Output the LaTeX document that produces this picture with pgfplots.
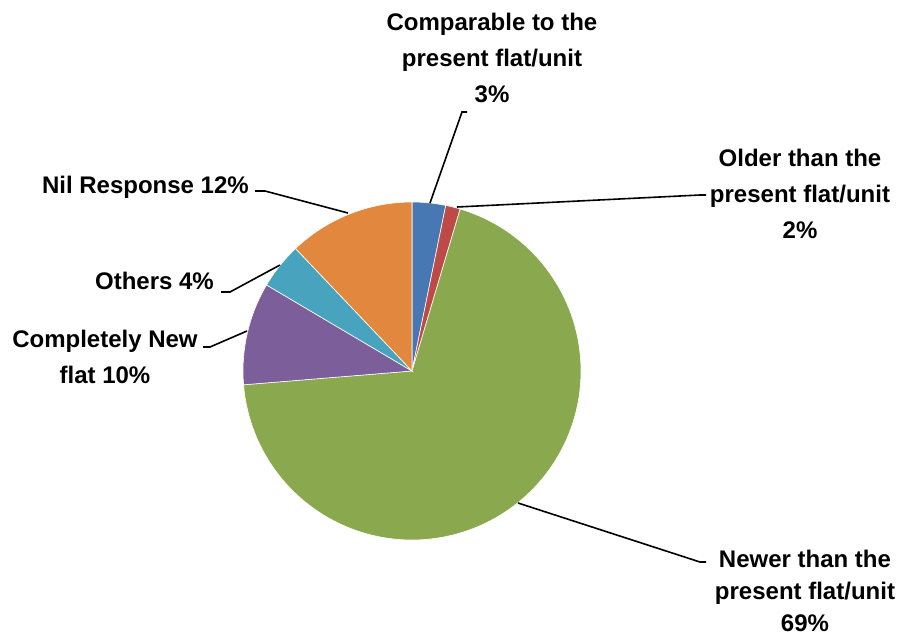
\documentclass[border=0pt]{standalone}
\usepackage{pgfplots}
\pgfplotsset{compat=1.18}
\usepackage{fontspec}
\setmainfont{Liberation Sans}
\definecolor{cBlue}{RGB}{72,120,180}
\definecolor{cRed}{RGB}{190,74,72}
\definecolor{cGreen}{RGB}{138,168,78}
\definecolor{cPurple}{RGB}{124,94,154}
\definecolor{cTeal}{RGB}{72,164,190}
\definecolor{cOrange}{RGB}{226,136,62}
\tikzset{lbl/.style={align=center, font=\fontsize{24}{36}\selectfont\bfseries, inner sep=0pt}}
\begin{document}
\begin{tikzpicture}
\useasboundingbox (0,0) rectangle (898pt,638pt);
\clip (0,0) rectangle (898pt,638pt);
\begin{axis}[at={(0pt,0pt)}, anchor=south west, scale only axis,
  width=898pt, height=638pt, xmin=0, xmax=898, ymin=0, ymax=638,
  y dir=reverse, hide axis, clip=false]
% slices: percentages (cumulative boundaries), clockwise from 12 o'clock
% Comparable 3.2, Older 1.4, Newer 69.1, Completely new 9.8, Others 4.4, Nil 12.1
\addplot[draw=white, line width=0.6pt, fill=cBlue, domain=0:3.2, samples=12, variable=\p]
  ({412+169*sin(3.6*\p)}, {371-169*cos(3.6*\p)}) -- (axis cs:412,371) -- cycle;
\addplot[draw=white, line width=0.6pt, fill=cRed, domain=3.2:4.6, samples=8, variable=\p]
  ({412+169*sin(3.6*\p)}, {371-169*cos(3.6*\p)}) -- (axis cs:412,371) -- cycle;
\addplot[draw=white, line width=0.6pt, fill=cGreen, domain=4.6:73.7, samples=150, variable=\p]
  ({412+169*sin(3.6*\p)}, {371-169*cos(3.6*\p)}) -- (axis cs:412,371) -- cycle;
\addplot[draw=white, line width=0.6pt, fill=cPurple, domain=73.7:83.5, samples=30, variable=\p]
  ({412+169*sin(3.6*\p)}, {371-169*cos(3.6*\p)}) -- (axis cs:412,371) -- cycle;
\addplot[draw=white, line width=0.6pt, fill=cTeal, domain=83.5:87.9, samples=15, variable=\p]
  ({412+169*sin(3.6*\p)}, {371-169*cos(3.6*\p)}) -- (axis cs:412,371) -- cycle;
\addplot[draw=white, line width=0.6pt, fill=cOrange, domain=87.9:100, samples=35, variable=\p]
  ({412+169*sin(3.6*\p)}, {371-169*cos(3.6*\p)}) -- (axis cs:412,371) -- cycle;

% leader lines
\draw[line width=1.6pt] (axis cs:467,112) -- (axis cs:462,112) -- (axis cs:430,203);
\draw[line width=1.6pt] (axis cs:457,207) -- (axis cs:700,195) -- (axis cs:706,195);
\draw[line width=1.6pt] (axis cs:255,191) -- (axis cs:265,191) -- (axis cs:348,213);
\draw[line width=1.6pt] (axis cs:221,292) -- (axis cs:230,292) -- (axis cs:280,265);
\draw[line width=1.6pt] (axis cs:203,347) -- (axis cs:210,347) -- (axis cs:247,331);
\draw[line width=1.6pt] (axis cs:518,503) -- (axis cs:700,562) -- (axis cs:706,562);

% labels
\node[lbl] at (axis cs:492,58) {Comparable to the\\present flat/unit\\3\%};
\node[lbl] at (axis cs:800,194) {Older than the\\present flat/unit\\2\%};
\node[lbl, anchor=east] at (axis cs:249,187) {Nil Response 12\%};
\node[lbl, anchor=east] at (axis cs:214,281) {Others 4\%};
\node[lbl] at (axis cs:105,357) {Completely New\\flat 10\%};
\node[lbl, font=\fontsize{24}{32}\selectfont\bfseries] at (axis cs:805,591) {Newer than the\\present flat/unit\\69\%};
\end{axis}
\end{tikzpicture}
\end{document}
